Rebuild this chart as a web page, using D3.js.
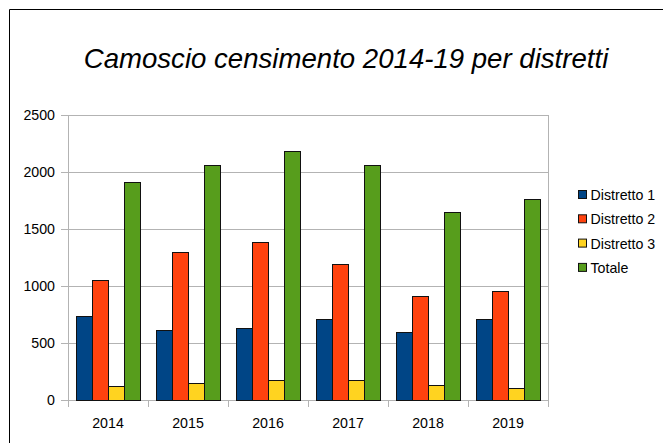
<!DOCTYPE html>
<html>
<head>
<meta charset="utf-8">
<script src="https://cdn.jsdelivr.net/npm/d3@7/dist/d3.min.js"></script>
<style>
  html, body { margin: 0; padding: 0; background: #fff; }
  svg { display: block; font-family: "Liberation Sans", Arial, sans-serif; }
</style>
</head>
<body>
<div id="chart"></div>
<script>
(function() {
  var years = ['2014', '2015', '2016', '2017', '2018', '2019'];
  var seriesNames = ['Distretto 1', 'Distretto 2', 'Distretto 3', 'Totale'];
  var distretto1 = [735, 615, 630, 710, 600, 710];
  var distretto2 = [1050, 1300, 1385, 1190, 915, 955];
  var distretto3 = [120, 145, 175, 175, 130, 105];
  var totale = [1910, 2060, 2180, 2065, 1645, 1765];
  var yTicks = [0, 500, 1000, 1500, 2000, 2500];
  var colors = ['#004586', '#ff420e', '#ffd320', '#579d1c'];

  var width = 663;
  var height = 443;
  var plot = { left: 68, right: 548, top: 115, bottom: 400 };
  var labelSize = 14.2;

  var svg = d3.select('#chart').append('svg')
    .attr('width', width)
    .attr('height', height);

  // frame (only top and left edges visible)
  svg.append('path')
    .attr('d', 'M9.5,' + height + 'V9.5H' + width)
    .attr('fill', 'none')
    .attr('stroke', '#000')
    .attr('stroke-width', 1);

  svg.append('text')
    .attr('x', 346)
    .attr('y', 68)
    .attr('text-anchor', 'middle')
    .attr('font-size', 27.6)
    .attr('font-style', 'italic')
    .attr('fill', '#000')
    .text('Camoscio censimento 2014-19 per distretti');

  var x0 = d3.scaleBand().domain(years).range([plot.left, plot.right]).paddingInner(0).paddingOuter(0);
  var x1 = d3.scaleBand().domain(seriesNames).range([8, x0.bandwidth() - 8]);
  var y = d3.scaleLinear().domain([0, 2500]).range([plot.bottom, plot.top]);

  // gridlines
  svg.append('g')
    .selectAll('line')
    .data(yTicks)
    .enter()
    .append('line')
    .attr('x1', plot.left - 7)
    .attr('x2', plot.right)
    .attr('y1', function(d) { return Math.round(y(d)) + 0.5; })
    .attr('y2', function(d) { return Math.round(y(d)) + 0.5; })
    .attr('stroke', '#b3b3b3');

  // vertical axis lines
  svg.append('line')
    .attr('x1', plot.left + 0.5).attr('x2', plot.left + 0.5)
    .attr('y1', plot.top).attr('y2', plot.bottom + 7)
    .attr('stroke', '#b3b3b3');
  svg.append('line')
    .attr('x1', plot.right + 0.5).attr('x2', plot.right + 0.5)
    .attr('y1', plot.top).attr('y2', plot.bottom)
    .attr('stroke', '#b3b3b3');

  // y axis labels
  svg.append('g')
    .selectAll('text')
    .data(yTicks)
    .enter()
    .append('text')
    .attr('x', 55)
    .attr('y', function(d) { return y(d) + 5; })
    .attr('text-anchor', 'end')
    .attr('font-size', labelSize)
    .attr('fill', '#000')
    .text(function(d) { return d; });

  // category ticks
  svg.append('g')
    .selectAll('line')
    .data(years)
    .enter()
    .append('line')
    .attr('x1', function(d) { return Math.round(x0(d) + x0.bandwidth()) + 0.5; })
    .attr('x2', function(d) { return Math.round(x0(d) + x0.bandwidth()) + 0.5; })
    .attr('y1', plot.bottom)
    .attr('y2', plot.bottom + 7)
    .attr('stroke', '#b3b3b3');

  svg.append('g')
    .selectAll('text')
    .data(years)
    .enter()
    .append('text')
    .attr('x', function(d) { return x0(d) + x0.bandwidth() / 2; })
    .attr('y', 428)
    .attr('text-anchor', 'middle')
    .attr('font-size', labelSize)
    .attr('fill', '#000')
    .text(function(d) { return d; });

  // bars
  var series = [distretto1, distretto2, distretto3, totale];
  var rows = years.map(function(yr, i) {
    return seriesNames.map(function(name, s) {
      return { year: yr, name: name, value: series[s][i], color: colors[s] };
    });
  });

  svg.append('g')
    .selectAll('g')
    .data(rows)
    .enter()
    .append('g')
    .attr('transform', function(d) { return 'translate(' + x0(d[0].year) + ',0)'; })
    .selectAll('rect')
    .data(function(d) { return d; })
    .enter()
    .append('rect')
    .attr('x', function(d) { return x1(d.name) + 0.5; })
    .attr('y', function(d) { return Math.round(y(d.value)) + 0.5; })
    .attr('width', x1.bandwidth())
    .attr('height', function(d) { return plot.bottom - Math.round(y(d.value)); })
    .attr('fill', function(d) { return d.color; })
    .attr('stroke', '#111')
    .attr('stroke-width', 1);

  // legend
  var legend = svg.append('g')
    .selectAll('g')
    .data(seriesNames)
    .enter()
    .append('g')
    .attr('transform', function(d, i) { return 'translate(578,' + (195 + i * 24.3) + ')'; });

  legend.append('rect')
    .attr('x', 0.5)
    .attr('y', -4.5)
    .attr('width', 8)
    .attr('height', 8)
    .attr('fill', function(d, i) { return colors[i]; })
    .attr('stroke', '#111');

  legend.append('text')
    .attr('x', 12.5)
    .attr('y', 5)
    .attr('font-size', labelSize)
    .attr('fill', '#000')
    .text(function(d) { return d; });
}).call(this);
</script>
</body>
</html>
